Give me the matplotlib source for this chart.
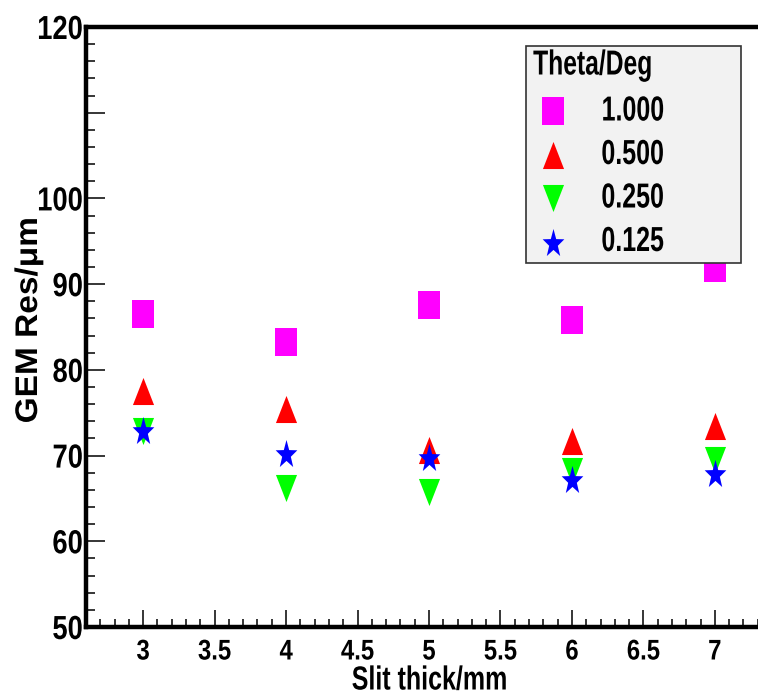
import matplotlib
matplotlib.use("Agg")
import matplotlib.pyplot as plt
import numpy as np
from matplotlib.path import Path
from matplotlib.lines import Line2D
from matplotlib.patches import Rectangle
from matplotlib.ticker import MultipleLocator, FixedLocator
from matplotlib.transforms import Affine2D
from matplotlib.patheffects import AbstractPathEffect

# ---------------- data ----------------
slit_mm = [3, 4, 5, 6, 7]
theta_labels = ["1.000", "0.500", "0.250", "0.125"]
res_theta_1000 = [86.5, 83.3, 87.6, 85.8, 91.9]
res_theta_0500 = [77.5, 75.4, 70.6, 71.7, 73.4]
res_theta_0250 = [72.9, 66.2, 65.7, 68.2, 69.5]
res_theta_0125 = [73.0, 70.3, 69.8, 67.3, 68.0]
y_tick_values = [50, 60, 70, 80, 90, 100, 110, 120]
y_tick_labels = ["50", "60", "70", "80", "90", "100", "", "120"]
x_tick_values = [3, 3.5, 4, 4.5, 5, 5.5, 6, 6.5, 7]
x_tick_labels = ["3", "3.5", "4", "4.5", "5", "5.5", "6", "6.5", "7"]
legend_title = "Theta/Deg"
x_title = "Slit thick/mm"
y_title = "GEM Res/\u03bcm"

plt.rcParams['font.family'] = ['Liberation Sans', 'DejaVu Sans']
plt.rcParams['font.weight'] = 'bold'


class Condense(AbstractPathEffect):
    """Draw text scaled along one screen direction (Helvetica-Narrow look)."""
    def __init__(self, s, anchor='center', direction='x'):
        super().__init__()
        self.s = s
        self.anchor = anchor
        self.direction = direction

    def draw_path(self, renderer, gc, tpath, affine, rgbFace=None):
        bb = tpath.get_extents(affine)
        if self.direction == 'x':
            x0 = {'left': bb.x0, 'center': 0.5 * (bb.x0 + bb.x1), 'right': bb.x1}[self.anchor]
            extra = Affine2D().translate(-x0, 0).scale(self.s, 1).translate(x0, 0)
        else:
            y0 = 0.5 * (bb.y0 + bb.y1)
            extra = Affine2D().translate(0, -y0).scale(1, self.s).translate(0, y0)
        renderer.draw_path(gc, tpath, affine + extra, rgbFace)


# ---------------- markers (stretched like the ROOT canvas) ----------------
AR = 0.78
sq = Path([(-AR, -1), (AR, -1), (AR, 1), (-AR, 1), (-AR, -1)],
          [Path.MOVETO, Path.LINETO, Path.LINETO, Path.LINETO, Path.CLOSEPOLY])
tri_up = Path([(-AR, -1), (AR, -1), (0, 1), (-AR, -1)],
              [Path.MOVETO, Path.LINETO, Path.LINETO, Path.CLOSEPOLY])
tri_dn = Path([(-AR, 1), (AR, 1), (0, -1), (-AR, 1)],
              [Path.MOVETO, Path.LINETO, Path.LINETO, Path.CLOSEPOLY])
pts = []
for k in range(10):
    r = 1.0 if k % 2 == 0 else 0.40
    a = np.pi / 2 + k * np.pi / 5
    pts.append((r * np.cos(a), r * np.sin(a)))
pts = np.array(pts)
mn, mx = pts.min(0), pts.max(0)
c = (mn + mx) / 2
pts = (pts - c) / ((mx - mn) / 2)
pts[:, 0] *= 0.80
star = Path(np.vstack([pts, pts[:1]]),
            [Path.MOVETO] + [Path.LINETO] * 9 + [Path.CLOSEPOLY])

series = [
    (res_theta_1000, sq, "#ff00ff"),
    (res_theta_0500, tri_up, "#ff0000"),
    (res_theta_0250, tri_dn, "#00ff00"),
    (res_theta_0125, star, "#0000ff"),
]

W, H = 758, 700
fig = plt.figure(figsize=(W / 100, H / 100), dpi=100)
ax = fig.add_axes([86 / W, 73 / H, 686 / W, 600 / H])

MS = 19.5
for vals, m, col in series:
    ax.plot(slit_mm, vals, linestyle='none', marker=m, markersize=MS,
            markerfacecolor=col, markeredgecolor=col, markeredgewidth=0, clip_on=False)

ax.set_xlim(2.6, 7.4)
ax.set_ylim(50, 120)

ax.xaxis.set_major_locator(FixedLocator(x_tick_values))
ax.set_xticklabels(x_tick_labels)
ax.xaxis.set_minor_locator(MultipleLocator(0.1))
ax.yaxis.set_major_locator(FixedLocator(y_tick_values))
ax.set_yticklabels(y_tick_labels)
ax.yaxis.set_minor_locator(MultipleLocator(2))

ax.tick_params(axis='both', which='both', direction='in', top=False, right=False,
               width=1.1, color='black')
ax.tick_params(axis='x', which='major', length=12.5, labelsize=20.5, pad=9)
ax.tick_params(axis='x', which='minor', length=5.5)
ax.tick_params(axis='y', which='major', length=14, labelsize=24, pad=2)
ax.tick_params(axis='y', which='minor', length=6.5)

for lab in ax.get_xticklabels():
    lab.set_path_effects([Condense(0.84, 'center')])
for lab in ax.get_yticklabels():
    lab.set_path_effects([Condense(0.82, 'right')])

for s in ['left', 'bottom', 'top']:
    ax.spines[s].set_linewidth(3.2)
ax.spines['right'].set_visible(False)

fig.text(430 / W, 1 - 681 / H, x_title, ha='center', va='center', fontsize=24,
         fontweight='bold', path_effects=[Condense(0.75, 'center')])
fig.text(29 / W, 1 - 320 / H, y_title, ha='center', va='center', fontsize=22.5,
         fontweight='bold', rotation=90, path_effects=[Condense(1.07, direction='y')])

# ---------------- legend box (ROOT TLegend style) ----------------
lx0, lx1, ly0, ly1 = 526, 741, 46, 263
fig.patches.append(Rectangle((lx0 / W, 1 - ly1 / H), (lx1 - lx0) / W, (ly1 - ly0) / H,
                             transform=fig.transFigure, facecolor='#f2f2f2',
                             edgecolor='#333333', linewidth=1.2, zorder=5))
fig.text(533 / W, 1 - 65 / H, legend_title, ha='left', va='center', fontsize=25,
         fontweight='bold', zorder=6, path_effects=[Condense(0.71, 'left')])
row_y0, row_dy = 111, 43.5
for i, ((vals, m, col), lab) in enumerate(zip(series, theta_labels)):
    yy = 1 - (row_y0 + i * row_dy) / H
    fig.add_artist(Line2D([553 / W], [yy], transform=fig.transFigure, linestyle='none',
                          marker=m, markersize=MS, markerfacecolor=col,
                          markeredgecolor=col, markeredgewidth=0, zorder=6))
    fig.text(601 / W, yy, lab, ha='left', va='center', fontsize=25, fontweight='bold',
             zorder=6, path_effects=[Condense(0.72, 'left')])

fig.savefig("out.png", dpi=100)
